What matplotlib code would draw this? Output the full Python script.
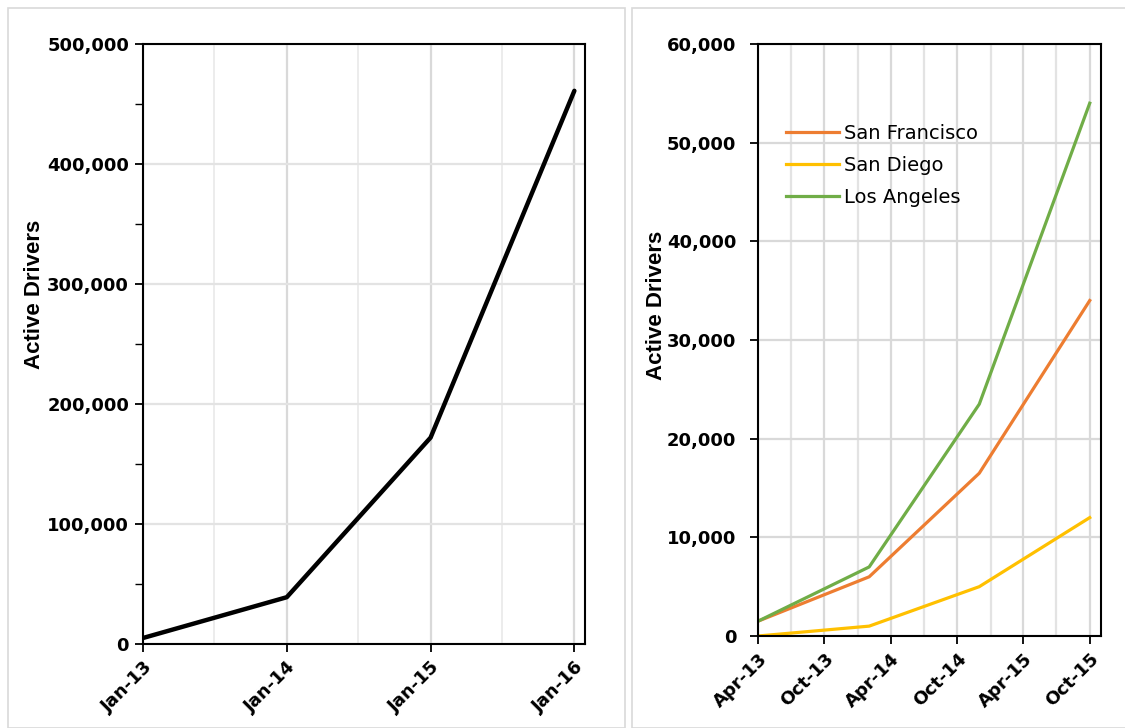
import matplotlib
matplotlib.use("Agg")
import matplotlib.pyplot as plt
import matplotlib.dates as mdates
from matplotlib.ticker import FuncFormatter, MultipleLocator
from matplotlib.patches import Rectangle
import datetime as dt

plt.rcParams['font.family'] = ['DejaVu Sans']

# total active drivers
total_dates = [dt.date(2013, 1, 1), dt.date(2014, 1, 1), dt.date(2015, 1, 1), dt.date(2016, 1, 1)]
total_drivers = [5000, 39000, 172000, 461000]

# by city
city_dates = [dt.date(2013, 4, 1), dt.date(2014, 2, 1), dt.date(2014, 12, 1), dt.date(2015, 10, 1)]
san_francisco = [1500, 6000, 16500, 34000]
san_diego = [0, 1000, 5000, 12000]
los_angeles = [1500, 7000, 23500, 54000]

fig = plt.figure(figsize=(11.25, 7.28), dpi=100)

# light panel frames like the spreadsheet chart areas
fig.patches.append(Rectangle((8 / 1125, 0), 617 / 1125, 720 / 728, transform=fig.transFigure,
                             fill=False, edgecolor='#d9d9d9', lw=1.2))
fig.patches.append(Rectangle((632 / 1125, 0), 500 / 1125, 720 / 728, transform=fig.transFigure,
                             fill=False, edgecolor='#d9d9d9', lw=1.2))

comma = FuncFormatter(lambda v, p: f"{int(v):,}")
label_family = ['Liberation Sans Narrow', 'Liberation Sans', 'DejaVu Sans']


def style(ax):
    for s in ax.spines.values():
        s.set_linewidth(1.5)
        s.set_color('black')
    ax.tick_params(axis='both', which='major', length=6, width=1.3, direction='out', pad=4)
    ax.tick_params(axis='both', which='minor', length=6, width=1.0, direction='out')
    ax.tick_params(axis='x', which='minor', length=0)
    ax.grid(True, which='major', color='#d9d9d9', lw=1.6)
    ax.grid(True, which='minor', axis='x', color='#ececec', lw=1.4)
    ax.set_axisbelow(True)
    for lab in ax.get_yticklabels() + ax.get_xticklabels():
        lab.set_fontsize(13)
        lab.set_fontweight('bold')
    for lab in ax.get_xticklabels():
        lab.set_rotation(45)
        lab.set_ha('right')
        lab.set_rotation_mode('anchor')
    ax.set_ylabel('Active Drivers', fontsize=16, fontweight='bold', family=label_family)


# left chart
ax1 = fig.add_axes([143 / 1125, 1 - 644 / 728, 442 / 1125, 600 / 728])
ax1.plot(total_dates, total_drivers, color='black', lw=3.2, solid_capstyle='round')
ax1.set_xlim(dt.date(2013, 1, 1), dt.date(2016, 1, 28))
ax1.set_ylim(0, 500000)
ax1.yaxis.set_major_locator(MultipleLocator(100000))
ax1.yaxis.set_minor_locator(MultipleLocator(50000))
ax1.yaxis.set_major_formatter(comma)
ax1.xaxis.set_major_locator(mdates.MonthLocator(bymonth=1))
ax1.xaxis.set_minor_locator(mdates.MonthLocator(bymonth=7))
ax1.xaxis.set_major_formatter(mdates.DateFormatter('%b-%y'))
style(ax1)
ax1.grid(True, which='major', axis='y', color='#e3e3e3', lw=1.6)
ax1.yaxis.set_label_coords(-0.222, 0.583)

# right chart
ax2 = fig.add_axes([758 / 1125, 1 - 636 / 728, 343 / 1125, 592 / 728])
ax2.plot(city_dates, san_francisco, color='#ED7D31', lw=2.3, label='San Francisco')
ax2.plot(city_dates, san_diego, color='#FFC000', lw=2.3, label='San Diego')
ax2.plot(city_dates, los_angeles, color='#70AD47', lw=2.3, label='Los Angeles')
ax2.set_xlim(dt.date(2013, 4, 1), dt.date(2015, 11, 1))
ax2.set_ylim(0, 60000)
ax2.yaxis.set_major_locator(MultipleLocator(10000))
ax2.yaxis.set_major_formatter(comma)
ax2.xaxis.set_major_locator(mdates.MonthLocator(bymonth=[4, 10]))
ax2.xaxis.set_minor_locator(mdates.MonthLocator(bymonth=[1, 7]))
ax2.xaxis.set_major_formatter(mdates.DateFormatter('%b-%y'))
style(ax2)
ax2.tick_params(axis='y', which='major', pad=9.5)
ax2.grid(True, which='minor', axis='x', color='#e3e3e3', lw=1.6)
ax2.yaxis.set_label_coords(-0.265, 0.559)
ax2.legend(loc='upper left', bbox_to_anchor=(0.031, 0.894), frameon=False, handlelength=2.7,
           handletextpad=0.3, labelspacing=0.66, prop={'size': 14})

fig.savefig('out.png', dpi=100)
